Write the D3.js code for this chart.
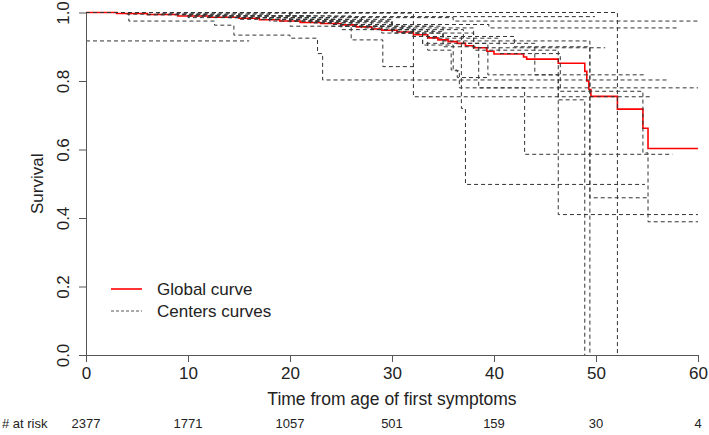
<!DOCTYPE html>
<html>
<head>
<meta charset="utf-8">
<script src="https://cdn.jsdelivr.net/npm/d3@7"></script>
<style>
  html, body { margin: 0; padding: 0; background: #fff; }
  svg { display: block; font-family: "Liberation Sans", Arial, sans-serif; }
</style>
</head>
<body>
<svg id="chart" width="709" height="435"></svg>
<script>
// ---------- data ----------
const xTicks = [0, 10, 20, 30, 40, 50, 60];
const yTicks = [0, 0.2, 0.4, 0.6, 0.8, 1.0];
const atRisk = [2377, 1771, 1057, 501, 159, 30, 4];

const globalTimes = [0, 3, 6, 9, 12, 15, 17, 19, 21, 23, 25, 26.5, 28, 29, 30.5, 32.1, 33.5, 34.5, 35.5, 36.4, 37.2, 38, 39.3, 40, 42.9, 43.2, 46.3, 48.9, 49.1, 49.3, 49.5, 52.1, 54.6, 55.1];
const globalSurv  = [1.0, 0.997, 0.994, 0.99, 0.986, 0.983, 0.979, 0.975, 0.971, 0.968, 0.964, 0.958, 0.952, 0.948, 0.943, 0.935, 0.926, 0.92, 0.915, 0.91, 0.903, 0.897, 0.887, 0.879, 0.87, 0.864, 0.852, 0.828, 0.80, 0.775, 0.755, 0.718, 0.662, 0.603];
const globalEnd = 60;

const centerTimes = [
  [0, 52.1],
  [0, 9, 18, 26, 36],
  [0, 6, 14, 22, 30, 39.5],
  [0, 4, 12, 24],
  [0],
  [0, 4.2, 12.6, 14.5, 20, 22.7, 23.2],
  [0, 7, 32.1],
  [0, 10, 18, 25, 29, 33, 36, 36.6],
  [0, 12, 22, 27, 32, 36.8, 37.2],
  [0, 15, 24, 30, 35, 38.5, 43.0],
  [0, 20, 28, 33, 39.4, 46.3],
  [0, 18, 26, 34, 40.5, 46.5, 54.6, 55.1],
  [0, 16, 27, 35, 42, 49.4],
  [0, 14, 24, 31, 38, 46.3, 48.9],
  [0, 10, 22, 30, 35, 49.4],
  [0, 20, 30, 38],
  [0, 10, 20, 26, 29.1],
  [0, 15, 25, 33.5, 35.8, 36.4],
  [0, 20, 30, 37, 44]
];
const centerSurv = [
  [1, 0],
  [1, 0.995, 0.99, 0.985, 0.975],
  [1, 0.993, 0.985, 0.975, 0.965, 0.955],
  [1, 0.995, 0.99, 0.988],
  [0.917],
  [1, 0.975, 0.963, 0.934, 0.925, 0.88, 0.803],
  [1, 0.998, 0.754],
  [1, 0.99, 0.975, 0.96, 0.94, 0.905, 0.83, 0.78],
  [1, 0.99, 0.97, 0.955, 0.93, 0.72, 0.498],
  [1, 0.985, 0.96, 0.94, 0.9, 0.78, 0.586],
  [1, 0.975, 0.95, 0.91, 0.818, 0.41],
  [1, 0.98, 0.96, 0.925, 0.88, 0.77, 0.59, 0.389],
  [1, 0.985, 0.96, 0.93, 0.9, 0.459],
  [1, 0.985, 0.965, 0.94, 0.89, 0.745, 0],
  [1, 0.99, 0.97, 0.945, 0.917, 0],
  [1, 0.98, 0.955, 0.897],
  [1, 0.985, 0.96, 0.92, 0.842],
  [1, 0.98, 0.95, 0.89, 0.832, 0.81],
  [1, 0.975, 0.95, 0.91, 0.818]
];
const centerEnd = [52.1, 60, 58, 49.9, 16, 57, 55.4, 60, 54.8, 57.5, 60, 60, 55.1, 48.9, 49.4, 50.9, 32.1, 39.4, 54.8];

// ---------- layout ----------
const svg = d3.select("#chart");
const x = d3.scaleLinear().domain([0, 60]).range([86, 698]);
const y = d3.scaleLinear().domain([0, 1]).range([355, 12.5]);
const textColor = "#222";
const axisColor = "#555";
const fontFam = "Liberation Sans, Arial, sans-serif";

function stepPoints(times, surv, end) {
  const pts = times.map((t, i) => ({t: t, s: surv[i]}));
  pts.push({t: end, s: surv[surv.length - 1]});
  return pts;
}
const stepLine = d3.line().x(d => x(d.t)).y(d => y(d.s)).curve(d3.curveStepAfter);

// red global curve (under dashed lines)
svg.append("path")
  .datum(stepPoints(globalTimes, globalSurv, globalEnd))
  .attr("d", stepLine)
  .attr("fill", "none")
  .attr("stroke", "#ff0000")
  .attr("stroke-width", 1.6);

// center curves
svg.append("g").selectAll("path")
  .data(centerTimes.map((ts, i) => stepPoints(ts, centerSurv[i], centerEnd[i])))
  .join("path")
  .attr("d", stepLine)
  .attr("fill", "none")
  .attr("stroke", "#333")
  .attr("stroke-width", 1)
  .attr("stroke-dasharray", "4,3");

// x axis
const gx = svg.append("g").attr("transform", "translate(0,355)")
  .call(d3.axisBottom(x).tickValues(xTicks).tickFormat(d3.format("d")).tickSize(7).tickSizeOuter(0));
gx.select(".domain").attr("stroke", axisColor);
gx.selectAll(".tick line").attr("stroke", axisColor);
gx.selectAll(".tick text").attr("y", 23.5).attr("dy", 0)
  .attr("font-size", 17).attr("fill", textColor).attr("font-family", fontFam);

// y axis
const gy = svg.append("g").attr("transform", "translate(86,0)")
  .call(d3.axisLeft(y).tickValues(yTicks).tickFormat(d3.format(".1f")).tickSize(7).tickSizeOuter(0));
gy.select(".domain").attr("stroke", axisColor);
gy.selectAll(".tick line").attr("stroke", axisColor);
gy.selectAll(".tick text")
  .attr("transform", "rotate(-90)")
  .attr("x", 0).attr("y", -17).attr("dy", 0)
  .attr("text-anchor", "middle")
  .attr("font-size", 17).attr("fill", textColor).attr("font-family", fontFam);

// axis titles
svg.append("text")
  .attr("x", (x(0) + x(60)) / 2).attr("y", 405)
  .attr("text-anchor", "middle")
  .attr("font-size", 17.5).attr("fill", textColor)
  .text("Time from age of first symptoms");

svg.append("text")
  .attr("transform", `translate(43,${y(0.5)}) rotate(-90)`)
  .attr("text-anchor", "middle")
  .attr("font-size", 17).attr("fill", textColor)
  .text("Survival");

// at-risk row
svg.append("text")
  .attr("x", 2).attr("y", 428)
  .attr("font-size", 13).attr("fill", textColor)
  .text("# at risk");
svg.append("g").selectAll("text")
  .data(atRisk)
  .join("text")
  .attr("x", (d, i) => x(xTicks[i]))
  .attr("y", 428)
  .attr("text-anchor", "middle")
  .attr("font-size", 13).attr("fill", textColor)
  .text(d => d);

// legend
const legend = svg.append("g");
legend.append("line").attr("x1", 111).attr("x2", 142).attr("y1", 289).attr("y2", 289)
  .attr("stroke", "#ff0000").attr("stroke-width", 1.6);
legend.append("line").attr("x1", 111).attr("x2", 142).attr("y1", 311).attr("y2", 311)
  .attr("stroke", "#555").attr("stroke-width", 1).attr("stroke-dasharray", "3,2");
legend.append("text").attr("x", 157).attr("y", 295)
  .attr("font-size", 17).attr("fill", textColor).text("Global curve");
legend.append("text").attr("x", 157).attr("y", 317)
  .attr("font-size", 17).attr("fill", textColor).text("Centers curves");
</script>
</body>
</html>
